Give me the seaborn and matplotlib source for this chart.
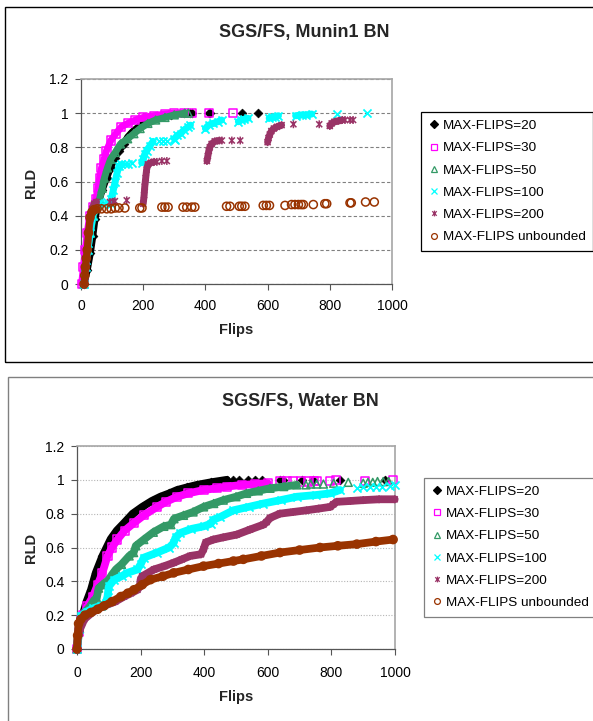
import numpy as np
import pandas as pd
import matplotlib
matplotlib.use("Agg")
import matplotlib.pyplot as plt
from matplotlib.lines import Line2D
from matplotlib.patches import Rectangle
from matplotlib.path import Path
import seaborn as sns

nan = np.nan

# ---------------------------------------------------------------- data
LABELS = ["MAX-FLIPS=20", "MAX-FLIPS=30", "MAX-FLIPS=50",
          "MAX-FLIPS=100", "MAX-FLIPS=200", "MAX-FLIPS unbounded"]
TITLE_TOP = "SGS/FS, Munin1 BN"
TITLE_BOTTOM = "SGS/FS, Water BN"
XLABEL = "Flips"
YLABEL = "RLD"
XTICKS = [0, 200, 400, 600, 800, 1000]
XTICK_LABELS = ["0", "200", "400", "600", "800", "1000"]
YTICKS = [0, 0.2, 0.4, 0.6, 0.8, 1.0, 1.2]
YTICK_LABELS = ["0", "0.2", "0.4", "0.6", "0.8", "1", "1.2"]

# ---- Munin1 (top panel): dense runs (nan = break) and isolated points
mun20_x = [10, 20, 30, 38, 45, 55, 68, 82, 95, 108, 122, 138, 150, 165, 185, 215, 250, 290, 330]
mun20_y = [0, 0.08, 0.18, 0.28, 0.38, 0.47, 0.55, 0.62, 0.68, 0.74, 0.78, 0.82, 0.86, 0.89, 0.92, 0.95, 0.975, 0.99, 1.0]
mun20_px = [350, 358, 410, 414, 517, 570]
mun20_py = [1.0, 1.0, 1.0, 1.0, 1.0, 1.0]

mun30_x = [2, 8, 14, 20, 28, 40, 48, 55, 60, 66, 74, 82, 96, 112, 130, 150, 175, 200, 235, 270, 300, 330]
mun30_y = [0.0, 0.1, 0.2, 0.3, 0.4, 0.45, 0.5, 0.56, 0.62, 0.68, 0.73, 0.78, 0.84, 0.88, 0.92, 0.94, 0.96, 0.975, 0.985, 0.995, 1.0, 1.0]
mun30_px = [356, 413, 490]
mun30_py = [1.0, 1.0, 1.0]

mun50_x = [10, 15, 22, 30, 40, 50, 60, 68, 75, 85, 95, 110, 127, 150, 170, 190, 215, 240, 270, 300, 334]
mun50_y = [0, 0.1, 0.2, 0.3, 0.4, 0.46, 0.5, 0.56, 0.62, 0.68, 0.73, 0.77, 0.82, 0.85, 0.88, 0.91, 0.94, 0.96, 0.975, 0.99, 1.0]
mun50_px = [345]
mun50_py = [1.0]

mun100_x = [10, 15, 22, 30, 38, 45, 55, nan, 95, 98, 104, 110, 116, 122, 130, nan,
            195, 200, 205, 211, 222, 232, nan, 300, 310, 320, 330, 345, 352, nan,
            400, 410, 425, 440, 452, nan, 506, 515, 525, 537, nan, 605, 615, 625, 635, nan,
            690, 710, 725, 742]
mun100_y = [0, 0.1, 0.2, 0.3, 0.4, 0.45, 0.47, nan, 0.47, 0.5, 0.55, 0.6, 0.65, 0.69, 0.7, nan,
            0.71, 0.73, 0.76, 0.78, 0.81, 0.835, nan, 0.85, 0.87, 0.88, 0.9, 0.92, 0.93, nan,
            0.91, 0.93, 0.94, 0.95, 0.96, nan, 0.95, 0.96, 0.965, 0.97, nan, 0.97, 0.975, 0.98, 0.985, nan,
            0.985, 0.99, 0.99, 0.995]
mun100_px = [72, 78, 84, 141, 152, 163, 250, 264, 275, 302, 823, 919]
mun100_py = [0.47, 0.475, 0.48, 0.7, 0.705, 0.71, 0.835, 0.84, 0.84, 0.845, 0.995, 1.0]

mun200_x = [12, 16, 20, 25, 30, 36, 42, 50, nan, 200, 203, 205, 208, 211, 215, 225, 235, nan,
            405, 408, 411, 414, 420, 430, 445, nan, 600, 603, 607, 612, 620, 630, 645, nan,
            800, 806, 815, 828, 840]
mun200_y = [0, 0.1, 0.2, 0.3, 0.38, 0.44, 0.47, 0.48, nan, 0.47, 0.52, 0.57, 0.62, 0.67, 0.7, 0.71, 0.715, nan,
            0.72, 0.75, 0.78, 0.8, 0.82, 0.835, 0.84, nan, 0.83, 0.855, 0.875, 0.895, 0.91, 0.92, 0.93, nan,
            0.925, 0.94, 0.95, 0.955, 0.96]
mun200_px = [93, 104, 109, 147, 244, 260, 276, 453, 485, 512, 683, 766, 849, 865, 875]
mun200_py = [0.48, 0.48, 0.485, 0.49, 0.715, 0.72, 0.72, 0.84, 0.84, 0.84, 0.935, 0.935, 0.96, 0.96, 0.96]

munU_x = [10, 12, 14, 17, 20, 24, 29, 35, 42, 52]
munU_y = [0, 0.05, 0.1, 0.15, 0.2, 0.3, 0.39, 0.42, 0.435, 0.44]
munU_px = [66, 83, 97, 110, 122, 141, 189, 196, 260, 270, 280, 328, 340, 356, 366, 468, 479, 509,
           517, 527, 586, 596, 606, 656, 677, 688, 699, 708, 715, 747, 784, 790, 865, 869, 915, 943]
munU_py = [0.44, 0.44, 0.44, 0.445, 0.445, 0.445, 0.445, 0.445, 0.45, 0.45, 0.45, 0.45, 0.45, 0.45,
           0.45, 0.455, 0.455, 0.455, 0.455, 0.455, 0.46, 0.46, 0.46, 0.46, 0.465, 0.465, 0.465,
           0.465, 0.465, 0.465, 0.47, 0.47, 0.475, 0.475, 0.48, 0.48]

# ---- Water (bottom panel)
wat20_x = [0, 3, 8, 18, 30, 44, 59, 80, 106, 125, 148, 175, 205, 235, 262, 290, 315, 345, 377, 420, 471]
wat20_y = [0, 0.08, 0.14, 0.2, 0.28, 0.35, 0.45, 0.55, 0.65, 0.7, 0.745, 0.8, 0.84, 0.875, 0.9, 0.92, 0.94, 0.955, 0.97, 0.985, 1.0]
wat20_px = [490, 510, 539, 560, 581, 638, 649, 706, 743, 827, 968]
wat20_py = [1.0, 1.0, 1.0, 1.0, 1.0, 1.0, 1.0, 1.0, 1.0, 1.0, 1.0]

wat30_x = [0, 5, 12, 20, 33, 50, 65, 80, 96, 110, 127, 150, 179, 210, 252, 280, 315, 350, 398, 440, 471, 520, 560, 600]
wat30_y = [0, 0.1, 0.17, 0.2, 0.255, 0.31, 0.38, 0.45, 0.55, 0.6, 0.647, 0.7, 0.745, 0.79, 0.84, 0.87, 0.9, 0.92, 0.94, 0.95, 0.96, 0.97, 0.975, 0.98]
wat30_px = [640, 660, 680, 705, 725, 745, 755, 795, 815, 905, 994]
wat30_py = [0.99, 0.99, 0.99, 0.99, 0.99, 0.995, 0.995, 0.995, 1.0, 0.995, 1.0]

wat50_x = [0, 8, 23, 40, 54, 62, 68, 80, 100, 110, 122, 140, 164, 178, 185, 210, 240, 273, 295, 305,
           335, 365, 398, 430, 460, 500, 533, 570, 607, 650, 691]
wat50_y = [0, 0.12, 0.216, 0.25, 0.29, 0.3, 0.36, 0.38, 0.41, 0.44, 0.47, 0.5, 0.55, 0.57, 0.61, 0.647,
           0.69, 0.725, 0.735, 0.77, 0.79, 0.81, 0.84, 0.86, 0.88, 0.9, 0.92, 0.935, 0.95, 0.96, 0.97]
wat50_px = [720, 735, 754, 775, 807, 853, 900, 915, 930, 945, 963, 980]
wat50_py = [0.97, 0.975, 0.975, 0.975, 0.98, 0.985, 0.98, 0.985, 0.985, 0.99, 0.99, 0.99]

wat100_x = [0, 5, 12, 30, 50, 75, 90, 96, 100, 117, 140, 158, 190, 200, 210, 252, 290, 304, 310, 325,
            360, 398, 420, 429, 450, 492, 540, 586, 640, 691, 750, 796, 827]
wat100_y = [0, 0.12, 0.196, 0.22, 0.24, 0.255, 0.27, 0.31, 0.37, 0.41, 0.43, 0.45, 0.47, 0.5, 0.54, 0.57,
            0.6, 0.627, 0.66, 0.686, 0.71, 0.725, 0.74, 0.765, 0.78, 0.82, 0.84, 0.86, 0.88, 0.9, 0.91, 0.92, 0.94]
wat100_px = [880, 900, 920, 940, 960, 985, 999]
wat100_py = [0.95, 0.955, 0.955, 0.96, 0.96, 0.965, 0.97]

wat200_x = [0, 2, 10, 23, 50, 85, 120, 148, 170, 190, 198, 200, 205, 242, 275, 304, 330, 356, 390, 398,
            405, 429, 460, 502, 544, 586, 596, 607, 638, 680, 722, 760, 796, 806, 817, 860, 900, 950, 999]
wat200_y = [0, 0.06, 0.12, 0.176, 0.22, 0.255, 0.28, 0.31, 0.33, 0.35, 0.37, 0.41, 0.43, 0.47, 0.49, 0.51,
            0.53, 0.55, 0.56, 0.59, 0.63, 0.647, 0.66, 0.676, 0.706, 0.735, 0.75, 0.775, 0.8, 0.81, 0.82,
            0.83, 0.84, 0.855, 0.87, 0.875, 0.88, 0.885, 0.885]
wat200_px = []
wat200_py = []

watU_x = [0, 2, 5, 12, 25, 44, 65, 85, 110, 138, 160, 179, 205, 231, 270, 304, 350, 398, 445, 492, 523,
          580, 638, 700, 764, 820, 880, 940, 994]
watU_y = [0, 0.08, 0.15, 0.176, 0.2, 0.216, 0.235, 0.255, 0.28, 0.31, 0.33, 0.35, 0.38, 0.41, 0.43, 0.45,
          0.47, 0.49, 0.505, 0.52, 0.53, 0.55, 0.57, 0.585, 0.6, 0.61, 0.62, 0.635, 0.647]
watU_px = []
watU_py = []

# ---------------------------------------------------------------- style
COLORS = ["#000000", "#FF00FF", "#339966", "#00FFFF", "#993366", "#993300"]
STAR = Path([(-1, -1), (1, 1), (-1, 1), (1, -1), (0, -1.3), (0, 1.3)],
            [Path.MOVETO, Path.LINETO, Path.MOVETO, Path.LINETO, Path.MOVETO, Path.LINETO])
MARKERS = ["D", "s", "^", "x", STAR, "o"]
SIZES = [20, 34, 32, 34, 32, 34]

sns.set_theme(style="white")
plt.rcParams["font.family"] = ["Liberation Sans", "DejaVu Sans"]

W, H = 593, 721
fig = plt.figure(figsize=(W / 100, H / 100), dpi=100)
fig.patch.set_facecolor("white")


def rect(l, t, r, b):
    return [l / W, 1 - b / H, (r - l) / W, (b - t) / H]


# outer chart borders
fig.add_artist(Rectangle((4.5 / W, 1 - 361.5 / H), (W + 10) / W, (361.5 - 7) / H,
                         transform=fig.transFigure, fill=False, ec="black", lw=1.0))
fig.add_artist(Rectangle((7.5 / W, 1 - (H + 10) / H), (W + 10) / W, (H + 10 - 376.5) / H,
                         transform=fig.transFigure, fill=False, ec="#808080", lw=1.0))

ax1 = fig.add_axes(rect(81, 79, 392, 284))
ax2 = fig.add_axes(rect(77, 446, 395, 649))

top_series = [(mun20_x, mun20_y, mun20_px, mun20_py), (mun30_x, mun30_y, mun30_px, mun30_py),
              (mun50_x, mun50_y, mun50_px, mun50_py), (mun100_x, mun100_y, mun100_px, mun100_py),
              (mun200_x, mun200_y, mun200_px, mun200_py), (munU_x, munU_y, munU_px, munU_py)]
bot_series = [(wat20_x, wat20_y, wat20_px, wat20_py), (wat30_x, wat30_y, wat30_px, wat30_py),
              (wat50_x, wat50_y, wat50_px, wat50_py), (wat100_x, wat100_y, wat100_px, wat100_py),
              (wat200_x, wat200_y, wat200_px, wat200_py), (watU_x, watU_y, watU_px, watU_py)]


def draw_series(ax, i, bx, by, px, py, lw_band):
    color = COLORS[i]
    ax.plot(bx, by, color=color, lw=lw_band, solid_capstyle="round",
            solid_joinstyle="round", zorder=3 + 2 * i, clip_on=False)
    df = pd.DataFrame({"x": list(bx) + list(px), "y": list(by) + list(py)}).dropna()
    kw = dict(marker=MARKERS[i], s=SIZES[i], zorder=4 + 2 * i, clip_on=False, legend=False)
    if i == 0:
        kw.update(color=color, edgecolor=color, linewidth=0.5)
    elif i == 3:
        kw.update(color=color, linewidth=1.3)
    else:
        kw.update(color=color, facecolor="none", edgecolor=color, linewidth=1.1)
    sns.scatterplot(data=df, x="x", y="y", ax=ax, **kw)


def style_axes(ax, grid_ls, grid_color, xpad):
    ax.set_xlim(0, 1000)
    ax.set_ylim(0, 1.2)
    ax.set_xticks(XTICKS)
    ax.set_xticklabels(XTICK_LABELS)
    ax.set_yticks(YTICKS)
    ax.set_yticklabels(YTICK_LABELS)
    ax.set_facecolor("white")
    ax.tick_params(axis="both", which="major", bottom=True, left=True, direction="out",
                   length=4, width=0.8, color="#555555", labelsize=10, labelcolor="black")
    ax.tick_params(axis="x", pad=xpad)
    ax.tick_params(axis="y", pad=5)
    ax.yaxis.grid(True, ls=grid_ls, color=grid_color, lw=0.8)
    ax.xaxis.grid(False)
    ax.set_axisbelow(True)
    for side in ["left", "bottom"]:
        ax.spines[side].set_color("#555555")
        ax.spines[side].set_linewidth(0.9)
    for side in ["top", "right"]:
        ax.spines[side].set_color("#a6a6a6")
        ax.spines[side].set_linewidth(1.2)
    for sp in ax.spines.values():
        sp.set_zorder(1)


for i, (bx, by, px, py) in enumerate(top_series):
    draw_series(ax1, i, bx, by, px, py, 5.0)
for i, (bx, by, px, py) in enumerate(bot_series):
    draw_series(ax2, i, bx, by, px, py, 5.6)

style_axes(ax1, (0, (3, 2)), "#808080", 7)
style_axes(ax2, (0, (1, 1.5)), "#b5b5b5", 8)

# titles and axis labels
ax1.set_title(TITLE_TOP, x=(304.3 - 81) / 311, y=1 + (79 - 33) / 205, va="center",
              fontsize=13, fontweight="bold", pad=0)
ax2.set_title(TITLE_BOTTOM, x=(300.5 - 77) / 318, y=1 + (446 - 401) / 203, va="center",
              fontsize=13, fontweight="bold", pad=0)
for ax, (lx, ly), (rx, ry) in [(ax1, (0.5, (284 - 330) / 205), ((30.7 - 81) / 311, 0.493)),
                               (ax2, (0.5016, (649 - 697) / 203), ((30.7 - 77) / 318, 0.499))]:
    ax.set_xlabel(XLABEL, fontsize=10.5, fontweight="bold")
    ax.set_ylabel(YLABEL, fontsize=10.5, fontweight="bold")
    ax.xaxis.set_label_coords(lx, ly)
    ax.yaxis.set_label_coords(rx, ry)
    ax.xaxis.label.set_verticalalignment("center")
    ax.yaxis.label.set_verticalalignment("center")

# legends


def legend_handles():
    hs = []
    for i in range(6):
        mfc = COLORS[i] if i == 0 else "none"
        ms = 3.6 if i == 0 else 4.2
        hs.append(Line2D([], [], ls="none", marker=MARKERS[i], markersize=ms, color=COLORS[i],
                         mfc=mfc, mec=COLORS[i], mew=0.9))
    return hs


for ax, (lx, ly), ec in [(ax1, (421, 112.3), "black"), (ax2, (424, 478), "#808080")]:
    leg = ax.legend(legend_handles(), LABELS, loc="upper left",
                    bbox_to_anchor=(lx / W, 1 - ly / H), bbox_transform=fig.transFigure,
                    frameon=True, fancybox=False, edgecolor=ec, framealpha=1,
                    fontsize=9.7, handlelength=0.8, handletextpad=0.25, borderpad=0.55,
                    labelspacing=0.73, borderaxespad=0)
    leg.get_frame().set_linewidth(0.9)
    for t in leg.get_texts():
        t.set_color("black")

fig.savefig("out.png", dpi=100)
